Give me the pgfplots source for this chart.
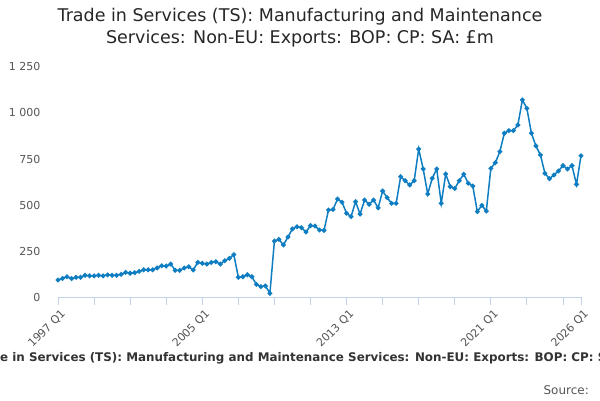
\documentclass[border=0pt]{standalone}
\usepackage{pgfplots}
\pgfplotsset{compat=1.18}
\usepackage{fontspec}
\setmainfont{DejaVu Sans}
\definecolor{ln}{HTML}{0F7DC2}
\definecolor{ax}{HTML}{C5D3E8}
\definecolor{gr}{HTML}{E3E3E3}
\definecolor{tx}{HTML}{555555}
\begin{document}
\begin{tikzpicture}[x=1pt,y=1pt]
\clip (0,0) rectangle (600,400);
\begin{axis}[at={(58pt,103pt)},anchor=south west,scale only axis,width=523pt,height=230pt,
 xmin=0,xmax=116,ymin=0,ymax=1250,
 axis y line=none, axis x line*=bottom, x axis line style={ax,line width=0.8pt,-},
 ytick={0,250,500,750,1000,1250}, ymajorgrids, grid style={gr,line width=0.6pt},
 xtick={0,32,64,96,116}, xticklabels={1997 Q1,2005 Q1,2013 Q1,2021 Q1,2026 Q1},
 minor xtick={8,16,24,40,48,56,72,80,88,104,112},
 tick style={ax,line width=0.8pt}, major tick length=8pt, minor tick length=8pt,
 tick align=outside, xtick pos=bottom,
 xticklabel style={rotate=45,anchor=north east,font=\fontsize{11}{12}\selectfont,text=tx,inner sep=1pt,yshift=-3pt},
 clip=false]
\addplot[ln,line width=1.5pt,mark=*,mark size=1.6pt] coordinates {
(0,92)(1,101)(2,110)(3,100)(4,107)(5,107)(6,118)(7,115)(8,115)(9,118)(10,115)(11,120)(12,118)(13,118)(14,123)(15,134)(16,129)(17,132)(18,139)(19,148)(20,148)(21,148)(22,158)(23,170)(24,168)(25,179)(26,145)(27,145)(28,158)(29,164)(30,147)(31,188)
(32,183)(33,179)(34,188)(35,192)(36,179)(37,197)(38,210)(39,230)(40,107)(41,110)(42,121)(43,110)(44,69)(45,56)(46,60)(47,20)
(48,304)(49,313)(50,283)(51,326)(52,370)(53,382)(54,377)(55,353)(56,388)(57,386)(58,364)(59,362)(60,473)(61,476)(62,532)(63,515)
(64,455)(65,437)(66,518)(67,451)(68,527)(69,504)(70,527)(71,484)(72,576)(73,540)(74,509)(75,509)(76,654)(77,632)(78,609)(79,632)
(80,804)(81,696)(82,560)(83,645)(84,696)(85,509)(86,668)(87,600)(88,590)(89,632)(90,667)(91,618)(92,603)(93,464)(94,498)(95,467)
(96,699)(97,730)(98,790)(99,890)(100,904)(101,904)(102,935)(103,1071)(104,1025)(105,890)(106,821)(107,772)(108,672)(109,643)(110,663)(111,685)(112,714)(113,696)(114,714)(115,612)(116,768)};
\end{axis}
\foreach \v/\l in {0/0,250/250,500/500,750/750,1000/1 000,1250/1 250}
 \node[anchor=east,font=\fontsize{11}{12}\selectfont,text=tx] at (44,{103+\v*0.184}) {\l};
\node[font=\fontsize{17.5}{22}\selectfont,align=center,text=black!85] at (300,372) {Trade in Services (TS): Manufacturing and Maintenance\\Services: Non-EU: Exports: BOP: CP: SA: £m};
\node[anchor=west,font=\bfseries\fontsize{11.9}{14}\selectfont,text=black!80,inner sep=0pt] at (0,42) {\llap{Trad}e in Services (TS): Manufacturing and Maintenance Services: Non-EU: Exports: BOP: CP: SA: £m};
\node[anchor=east,font=\fontsize{12}{13}\selectfont,text=tx,inner sep=0pt] at (589,10) {Source:};
\end{tikzpicture}
\end{document}
